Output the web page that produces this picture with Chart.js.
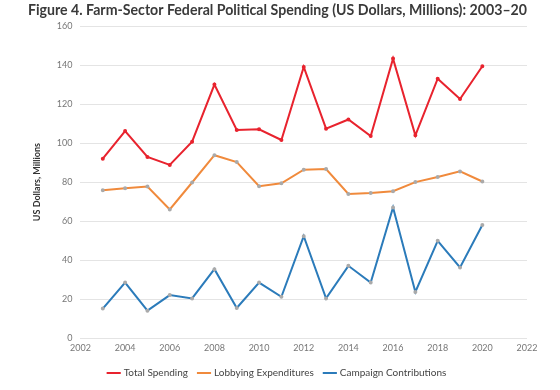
<!DOCTYPE html>
<html lang="en">
  <head>
    <meta charset="UTF-8" />
    <script src="https://cdn.jsdelivr.net/npm/chart.js"></script>
    <title>Farm-Sector Spending</title>
    <style>
      body { margin: 0; background: #fff; }
      #wrap { width: 560px; height: 390px; }
    </style>
  </head>
  <body>
    <div id="wrap"><canvas id="myChart"></canvas></div>
    <script>
      var years = [2003, 2004, 2005, 2006, 2007, 2008, 2009, 2010, 2011, 2012,
                   2013, 2014, 2015, 2016, 2017, 2018, 2019, 2020];
      var totalSpending = [92, 106.2, 92.9, 88.8, 100.7, 130, 106.7, 107.1, 101.6, 139,
                           107.4, 112.1, 103.6, 143.3, 104, 133, 122.6, 139.4];
      var lobbying = [75.8, 76.8, 77.7, 66, 79.8, 93.8, 90.3, 77.9, 79.4, 86.4,
                      86.7, 73.9, 74.4, 75.3, 80, 82.6, 85.5, 80.3];
      var campaign = [15.2, 28.5, 14.1, 22.1, 20.4, 35.4, 15.5, 28.5, 21.2, 52.3,
                      20.4, 37.1, 28.5, 67, 23.7, 49.9, 36.3, 58];
      var yTicks = [0, 20, 40, 60, 80, 100, 120, 140, 160];
      var xTicks = [2002, 2004, 2006, 2008, 2010, 2012, 2014, 2016, 2018, 2020, 2022];

      function pts(vals) {
        return years.map(function (y, i) { return { x: y, y: vals[i] }; });
      }

      var ctx = document.getElementById("myChart");
      var myChart = new Chart(ctx, {
        type: "line",
        data: {
          datasets: [
            {
              label: "Total Spending",
              data: pts(totalSpending),
              borderColor: "#E8232E",
              backgroundColor: "#E8232E",
              borderWidth: 2,
              pointRadius: 1,
              lineTension: 0,
            },
            {
              label: "Lobbying Expenditures",
              data: pts(lobbying),
              borderColor: "#F08A3C",
              backgroundColor: "#F08A3C",
              pointBorderColor: "#aaa",
              pointBackgroundColor: "#aaa",
              borderWidth: 2,
              pointRadius: 1,
              lineTension: 0,
            },
            {
              label: "Campaign Contributions",
              data: pts(campaign),
              borderColor: "#2B7BBA",
              backgroundColor: "#2B7BBA",
              pointBorderColor: "#aaa",
              pointBackgroundColor: "#aaa",
              borderWidth: 2,
              pointRadius: 1,
              lineTension: 0,
            },
          ],
        },
        options: {
          responsive: true,
          maintainAspectRatio: false,
          animation: false,
          layout: { padding: { left: 28, right: 33, top: 0, bottom: 2 } },
          plugins: {
            title: {
              display: true,
              text: "Figure 4. Farm-Sector Federal Political Spending (US Dollars, Millions): 2003\u201320",
              color: "#3a3a3a",
              font: { family: "Lato", size: 14.2, weight: "bold" },
              padding: { top: 2, bottom: 7 },
            },
            legend: {
              position: "bottom",
              labels: {
                boxWidth: 16,
                color: "#444",
                font: { family: "Lato", size: 10 },
                padding: 11,
                generateLabels: function (chart) {
                  return chart.data.datasets.map(function (ds, i) {
                    return {
                      text: ds.label,
                      strokeStyle: ds.borderColor,
                      fillStyle: ds.borderColor,
                      lineWidth: 2,
                      pointStyle: "line",
                      datasetIndex: i,
                      fontColor: "#444",
                    };
                  });
                },
                usePointStyle: true,
              },
            },
            tooltip: { enabled: false },
          },
          scales: {
            x: {
              type: "linear",
              min: 2002,
              max: 2022,
              afterBuildTicks: function (axis) {
                axis.ticks = xTicks.map(function (v) { return { value: v }; });
              },
              grid: { display: false, drawTicks: false },
              border: { display: false },
              ticks: {
                color: "#777",
                font: { family: "Lato", size: 9 },
                padding: 4,
                maxRotation: 0,
                callback: function (v) { return String(v); },
              },
            },
            y: {
              min: 0,
              max: 160,
              afterBuildTicks: function (axis) {
                axis.ticks = yTicks.map(function (v) { return { value: v }; });
              },
              grid: { color: "#e4e4e4", drawTicks: false },
              border: { display: false },
              ticks: {
                color: "#777",
                font: { family: "Lato", size: 9 },
                padding: 8,
              },
              title: {
                display: true,
                text: "US Dollars, Millions",
                color: "#333",
                font: { family: "Lato", size: 9, weight: "bold" },
                padding: { bottom: 6 },
              },
            },
          },
        },
      });
    </script>
  </body>
</html>
